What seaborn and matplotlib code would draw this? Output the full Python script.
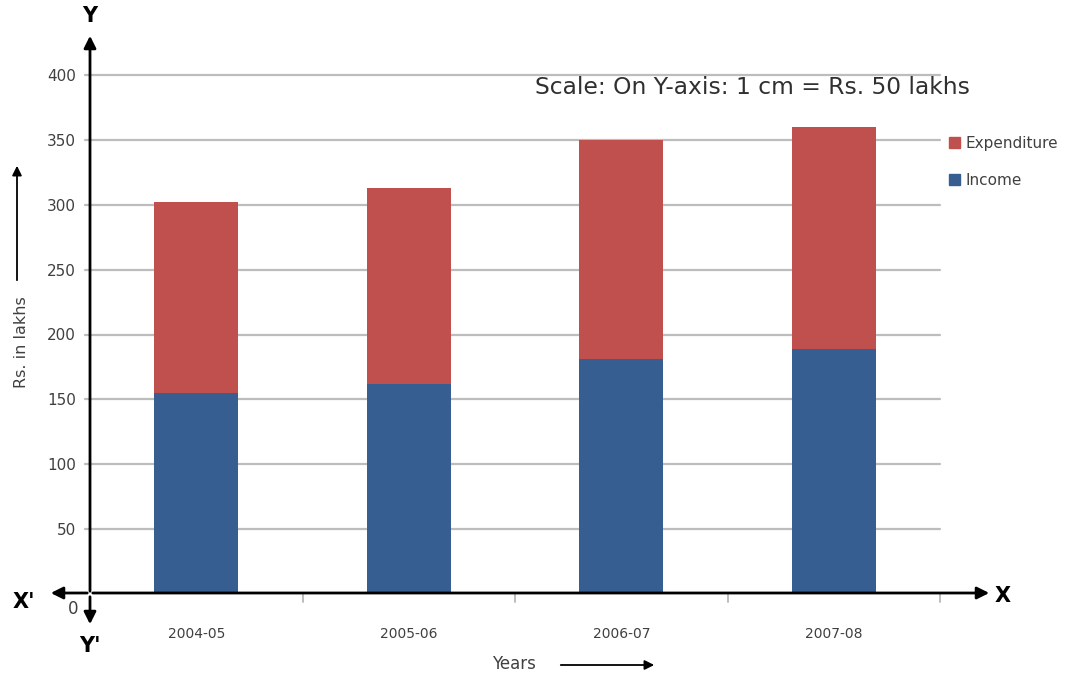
import matplotlib
matplotlib.use("Agg")
import matplotlib.pyplot as plt
from matplotlib.patches import Patch, FancyArrowPatch
import seaborn as sns
import pandas as pd

# values (Rs. in lakhs)
years = ["2004-05", "2005-06", "2006-07", "2007-08"]
income = [155, 162, 181, 189]
expenditure = [147, 151, 169, 171]
y_ticks = [50, 100, 150, 200, 250, 300, 350, 400]

RED = "#C0504D"
BLUE = "#365E91"
GRID = "#BDBDBD"
TXT = "#404040"

sns.set_style("white")
plt.rcParams["font.family"] = ["DejaVu Sans"]

W, H = 1067, 677
fig = plt.figure(figsize=(W / 100, H / 100), dpi=100)


def px(x, y):
    # pixel position (top-left origin) -> figure fraction
    return x / W, 1 - y / H


left, top = px(90, 75)
_, bottom = px(90, 594)
ax = fig.add_axes([left, bottom, 850 / W, top - bottom])

df = pd.DataFrame({"year": years, "income": income, "expenditure": expenditure})
df["total"] = df["income"] + df["expenditure"]

bar_kw = dict(width=0.395, saturation=1, linewidth=0, edgecolor="none", ax=ax)
sns.barplot(data=df, x="year", y="total", color=RED, **bar_kw)
sns.barplot(data=df, x="year", y="income", color=BLUE, **bar_kw)

ax.set_xlim(-0.5, len(years) - 0.5)
ax.set_ylim(0, 400)
ax.set_yticks(y_ticks)
for v in y_ticks:
    ax.plot([-0.525, len(years) - 0.5], [v, v], color=GRID, lw=1.6, zorder=0, clip_on=False)
ax.tick_params(axis="y", length=0, pad=10, labelsize=11, labelcolor=TXT)
ax.tick_params(axis="x", length=0, pad=24, labelsize=10, labelcolor=TXT)
ax.set_xlabel("")
ax.set_ylabel("")
for s in ax.spines.values():
    s.set_visible(False)

# small tick marks under the x axis at category boundaries
for b in range(1, len(years) + 1):
    ax.plot([b - 0.5, b - 0.5], [0, -6], color=GRID, lw=1.4, clip_on=False)

# coordinate axes with arrowheads
def arrow(p0, p1, lw=2, ms=18):
    a = FancyArrowPatch(px(*p0), px(*p1), transform=fig.transFigure,
                        arrowstyle="-|>", mutation_scale=ms, color="black", lw=lw)
    fig.patches.append(a)

arrow((90, 594), (90, 33))
arrow((90, 594), (90, 627))
arrow((90, 593), (992, 593))
arrow((90, 593), (48, 593))
arrow((17, 283), (17, 163), lw=1.3, ms=14)
arrow((558, 665), (657, 665), lw=1.3, ms=14)

bold = dict(fontsize=15, fontweight="bold", color="black", ha="center", va="center")
fig.text(*px(90, 16), "Y", **bold)
fig.text(*px(90, 646), "Y'", **bold)
fig.text(*px(24, 602), "X'", **bold)
fig.text(*px(1003, 596), "X", **bold)
fig.text(*px(73, 609), "0", fontsize=12, color=TXT, ha="center", va="center")

fig.text(*px(22, 342), "Rs. in lakhs", rotation=90, fontsize=11.5, color=TXT,
         ha="center", va="center")
fig.text(*px(514, 664), "Years", fontsize=12, color=TXT, ha="center", va="center")
fig.text(*px(752, 87), "Scale: On Y-axis: 1 cm = Rs. 50 lakhs", fontsize=16.8,
         color="#303030", ha="center", va="center")

handles = [Patch(color=RED, label="Expenditure"), Patch(color=BLUE, label="Income")]
fig.legend(handles=handles, loc="upper left", bbox_to_anchor=px(935, 122),
           frameon=False, fontsize=11, handlelength=0.75, handleheight=0.75,
           handletextpad=0.35, labelspacing=1.45, labelcolor=TXT)

fig.savefig("out.png", dpi=100)
